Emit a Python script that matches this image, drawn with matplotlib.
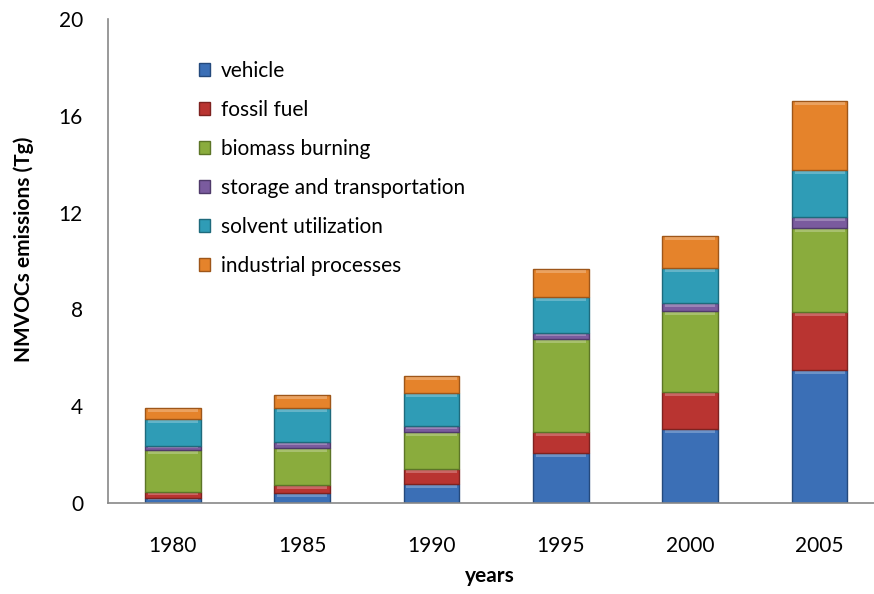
import numpy as np
import matplotlib
matplotlib.use('Agg')
import matplotlib.pyplot as plt

plt.rcParams['font.family'] = ['Lato', 'DejaVu Sans']

years = ['1980', '1985', '1990', '1995', '2000', '2005']
sources = ['vehicle', 'fossil fuel', 'biomass burning', 'storage and transportation',
           'solvent utilization', 'industrial processes']

vehicle = [0.21, 0.41, 0.79, 2.07, 3.06, 5.50]
fossil_fuel = [0.24, 0.33, 0.61, 0.86, 1.53, 2.39]
biomass = [1.74, 1.53, 1.53, 3.85, 3.34, 3.47]
storage = [0.17, 0.25, 0.25, 0.24, 0.33, 0.46]
solvent = [1.11, 1.41, 1.37, 1.49, 1.45, 1.94]
industrial = [0.46, 0.53, 0.70, 1.16, 1.32, 2.85]

series = [vehicle, fossil_fuel, biomass, storage, solvent, industrial]
colors = ['#3b6fb6', '#b93431', '#8aac3d', '#7a5b9e', '#2f9cb6', '#e5832b']
edges = ['#24497c', '#7d2220', '#5c7527', '#4f3a6a', '#1e6a7c', '#9e5619']

fig = plt.figure(figsize=(8.74, 5.94), dpi=100)
ax = fig.add_axes([108 / 874, 91 / 594, 1 - 108 / 874, 484 / 594])

x = np.arange(len(years))
w = 0.43
bottom = np.zeros(len(years))
for vals, name, c, ec in zip(series, sources, colors, edges):
    vals = np.array(vals)
    ax.bar(x, vals, width=w, bottom=bottom, color=c, edgecolor=ec,
           linewidth=1.0, label=name)
    # bevel-ish highlight along the top of each segment
    hl = np.minimum(0.14, 0.35 * vals)
    ax.bar(x, hl, width=w * 0.9, bottom=bottom + vals - hl - 0.03,
           color='white', alpha=0.25, linewidth=0)
    bottom += vals

ax.set_xlim(-0.5, 5.42)
ax.set_ylim(0, 20)
ax.set_yticks([0, 4, 8, 12, 16, 20])
ax.set_xticks(x)
ax.set_xticklabels(years)
ax.tick_params(axis='both', length=0, labelsize=15)
ax.tick_params(axis='x', pad=24)
ax.tick_params(axis='y', pad=18)
for s in ['top', 'right']:
    ax.spines[s].set_visible(False)
for s in ['left', 'bottom']:
    ax.spines[s].set_color('#888888')
    ax.spines[s].set_linewidth(1.2)

ax.set_ylabel('NMVOCs emissions (Tg)', fontsize=15, fontweight='bold')
ax.yaxis.set_label_coords(-0.097, 0.525)
ax.set_xlabel('years', fontsize=15, fontweight='bold')
ax.xaxis.set_label_coords((490 - 108) / 766, -(566 - 503) / 484)

ax.legend(loc='upper left', bbox_to_anchor=(0.094, 0.952), frameon=False,
          fontsize=15, handlelength=0.55, handleheight=0.55, handletextpad=0.5,
          labelspacing=0.91)

fig.savefig('out.png', dpi=100)
